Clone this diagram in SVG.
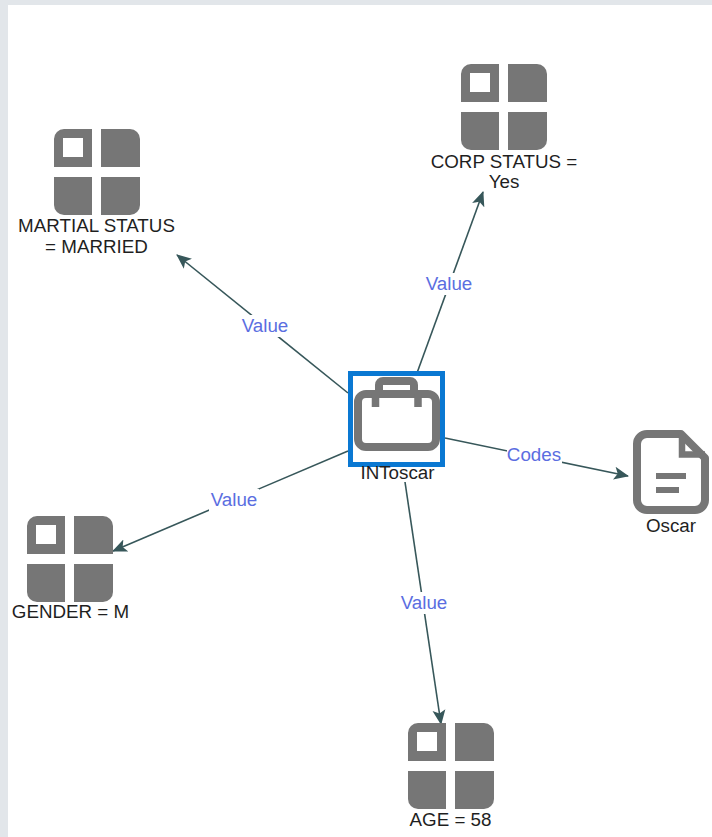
<svg xmlns="http://www.w3.org/2000/svg" width="712" height="837" viewBox="0 0 712 837">
<style>
text{font-family:"Liberation Sans",Arial,sans-serif;font-size:18.800px}
.n{fill:#1f1f1f;text-anchor:middle}
.e{fill:#5b6ee1;text-anchor:middle}
.c{stroke:#37575a;stroke-width:1.6;fill:none;marker-end:url(#a)}
.g{fill:#767676}
.lb{fill:#fff}
</style>
<defs>
<marker id="a" markerUnits="userSpaceOnUse" markerWidth="16" markerHeight="14" refX="14" refY="7" orient="auto"><path d="M0 0.5L15 7L0 13.5L3.5 7Z" fill="#37575a"/></marker>
<g id="grid">
<path class="g" d="M10 0H38V38H0V10A10 10 0 0 1 10 0ZM9 9V28H29V9Z" fill-rule="evenodd"/>
<path class="g" d="M47 0H76A10 10 0 0 1 86 10V38H47Z"/>
<path class="g" d="M0 48H38V86H10A10 10 0 0 1 0 76Z"/>
<path class="g" d="M47 48H86V76A10 10 0 0 1 76 86H47Z"/>
</g>
</defs>
<rect width="712" height="837" fill="#fff"/>
<path d="M0 0H712V5H8V837H0Z" fill="#e2e6ea"/>
<g id="connectors">
<path class="c" d="M348 393L177 255"/>
<path class="c" d="M417 373L483 192"/>
<path class="c" d="M445 438L628 476"/>
<path class="c" d="M348 451L113 551"/>
<path class="c" d="M405 482L441 724"/>
<rect class="lb" x="240" y="315" width="50" height="22"/>
<rect class="lb" x="424" y="273" width="50" height="22"/>
<rect class="lb" x="507" y="446" width="55" height="18"/>
<rect class="lb" x="209" y="489" width="50" height="22"/>
<rect class="lb" x="399" y="592" width="50" height="22"/>
<text class="e" x="265" y="332">Value</text>
<text class="e" x="449" y="290">Value</text>
<text class="e" x="534" y="461">Codes</text>
<text class="e" x="234" y="506">Value</text>
<text class="e" x="424" y="609">Value</text>
</g>
<g id="node-intoscar">
<rect x="350.500" y="373.500" width="92" height="91" fill="#fff" stroke="#0a78d2" stroke-width="5"/>
<path d="M379 392V385A4 4 0 0 1 383 381H410A4 4 0 0 1 414 385V392" fill="none" stroke="#767676" stroke-width="8"/>
<rect x="358" y="394" width="78" height="53" rx="8" fill="none" stroke="#767676" stroke-width="8"/>
<path d="M375.500 394V407M418 394V407" stroke="#767676" stroke-width="7.500" fill="none"/>
<text class="n" x="397.500" y="479">INToscar</text>
</g>
<g id="node-corp-status">
<use href="#grid" x="461" y="64"/>
<text class="n" x="504" y="168">CORP STATUS =</text>
<text class="n" x="504" y="188">Yes</text>
</g>
<g id="node-martial-status">
<use href="#grid" x="54" y="129"/>
<text class="n" x="96.500" y="232">MARTIAL STATUS</text>
<text class="n" x="96.500" y="253">= MARRIED</text>
</g>
<g id="node-gender">
<use href="#grid" x="27" y="516"/>
<text class="n" x="70.500" y="618">GENDER = M</text>
</g>
<g id="node-age">
<use href="#grid" x="408" y="723"/>
<text class="n" x="450.500" y="826">AGE = 58</text>
</g>
<g id="node-oscar">
<path d="M647 434H681L705 458V500A10 10 0 0 1 695 510H647A10 10 0 0 1 637 500V444A10 10 0 0 1 647 434Z" fill="#fff" stroke="#767676" stroke-width="8" stroke-linejoin="round"/>
<path d="M682 434V454.500H705" fill="none" stroke="#767676" stroke-width="6.500" stroke-linejoin="miter"/>
<rect x="656" y="473" width="30" height="6" class="g"/>
<rect x="656" y="487" width="23" height="6" class="g"/>
<text class="n" x="671" y="532">Oscar</text>
</g>
</svg>
